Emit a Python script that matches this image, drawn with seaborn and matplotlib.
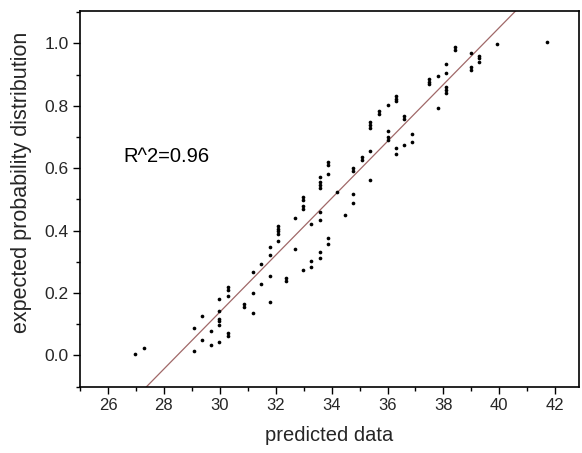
import matplotlib
matplotlib.use("Agg")
import matplotlib.pyplot as plt
import seaborn as sns
import numpy as np
import pandas as pd
from matplotlib.ticker import MultipleLocator

# ---- data ----
predicted = [
    26.98, 27.29,
    29.08, 29.08,
    29.38, 29.38,
    29.68, 29.68,
    29.99, 29.99, 29.99, 29.99, 29.99, 29.99,
    30.29, 30.29, 30.29, 30.29, 30.29,
    30.88, 30.88,
    31.18, 31.18, 31.18,
    31.48, 31.48,
    31.78, 31.78, 31.78, 31.78,
    32.08, 32.08, 32.08, 32.08, 32.08,
    32.38, 32.38,
    32.70, 32.70,
    32.99, 32.99, 32.99, 32.99, 32.99,
    33.28, 33.28, 33.28,
    33.58, 33.58, 33.58, 33.58, 33.58, 33.58, 33.58, 33.58,
    33.88, 33.88, 33.88, 33.88, 33.88,
    34.18, 34.48,
    34.78, 34.78, 34.78, 34.78,
    35.09, 35.09,
    35.39, 35.39, 35.39, 35.39, 35.39,
    35.70, 35.70,
    36.00, 36.00, 36.00, 36.00,
    36.30, 36.30, 36.30, 36.30, 36.30,
    36.59, 36.59, 36.59,
    36.89, 36.89,
    37.50, 37.50, 37.50,
    37.80, 37.80,
    38.10, 38.10, 38.10, 38.10, 38.10,
    38.40, 38.40,
    38.99, 38.99, 38.99,
    39.29, 39.29, 39.29,
    39.90, 41.69,
]
expected = [
    0.005, 0.025,
    0.015, 0.089,
    0.126, 0.051,
    0.080, 0.033,
    0.182, 0.144, 0.118, 0.109, 0.099, 0.043,
    0.219, 0.211, 0.191, 0.072, 0.063,
    0.164, 0.155,
    0.266, 0.201, 0.136,
    0.293, 0.228,
    0.349, 0.321, 0.256, 0.172,
    0.415, 0.406, 0.398, 0.389, 0.368,
    0.247, 0.238,
    0.442, 0.340,
    0.507, 0.497, 0.479, 0.471, 0.275,
    0.423, 0.304, 0.285,
    0.572, 0.556, 0.546, 0.536, 0.460, 0.433, 0.331, 0.312,
    0.619, 0.610, 0.581, 0.376, 0.358,
    0.525, 0.451,
    0.600, 0.591, 0.516, 0.488,
    0.636, 0.628,
    0.749, 0.740, 0.730, 0.655, 0.564,
    0.783, 0.774,
    0.804, 0.720, 0.700, 0.692,
    0.832, 0.823, 0.814, 0.665, 0.646,
    0.768, 0.758, 0.674,
    0.711, 0.683,
    0.886, 0.877, 0.869,
    0.896, 0.794,
    0.934, 0.906, 0.859, 0.850, 0.840,
    0.989, 0.980,
    0.970, 0.924, 0.914,
    0.960, 0.952, 0.942,
    0.998, 1.006,
]
fit_slope = 0.0912
fit_intercept = -2.597
fit_x = [27.0, 41.0]
r2_label = "R^2=0.96"
x_label = "predicted data"
y_label = "expected probability distribution"
x_ticks = [26, 28, 30, 32, 34, 36, 38, 40, 42]
y_ticks = [0.0, 0.2, 0.4, 0.6, 0.8, 1.0]

sns.set_theme(style="white")
plt.rcParams["font.family"] = ["Liberation Sans", "DejaVu Sans"]

fig = plt.figure(figsize=(5.82, 4.53), dpi=100)
ax = fig.add_axes([80 / 582, 1 - 386.7 / 453, (579 - 80) / 582, (386.7 - 11) / 453])

df = pd.DataFrame({"predicted": predicted, "expected": expected})
sns.scatterplot(data=df, x="predicted", y="expected", ax=ax, color="black",
                s=7, linewidth=0, zorder=3)

fx = np.array(fit_x)
ax.plot(fx, fit_slope * fx + fit_intercept, color="#a06868", lw=0.9, zorder=2)

ax.set_xlim(25, 42.85)
ax.set_ylim(-0.1, 1.104)
ax.set_xticks(x_ticks)
ax.set_yticks(y_ticks)
ax.set_yticklabels([f"{v:.1f}" for v in y_ticks])
ax.xaxis.set_minor_locator(MultipleLocator(1))
ax.yaxis.set_minor_locator(MultipleLocator(0.1))
ax.tick_params(which="major", direction="out", length=5, width=1.0,
               color="black", bottom=True, left=True, pad=3)
ax.tick_params(axis="x", which="major", labelsize=12)
ax.tick_params(axis="y", which="major", labelsize=12.5)
ax.tick_params(which="minor", direction="out", length=3, width=1.0,
               color="black", bottom=True, left=True)
for sp in ax.spines.values():
    sp.set_color("black")
    sp.set_linewidth(1.2)

ax.set_xlabel(x_label, fontsize=14.5)
ax.set_ylabel(y_label, fontsize=15.5)
ax.xaxis.set_label_coords(0.5, -0.105)
ax.yaxis.set_label_coords(-0.096, 0.545)

ax.text(26.55, 0.638, r2_label, fontsize=14.5, va="center", ha="left", color="black")

fig.savefig("out.png", dpi=100)
